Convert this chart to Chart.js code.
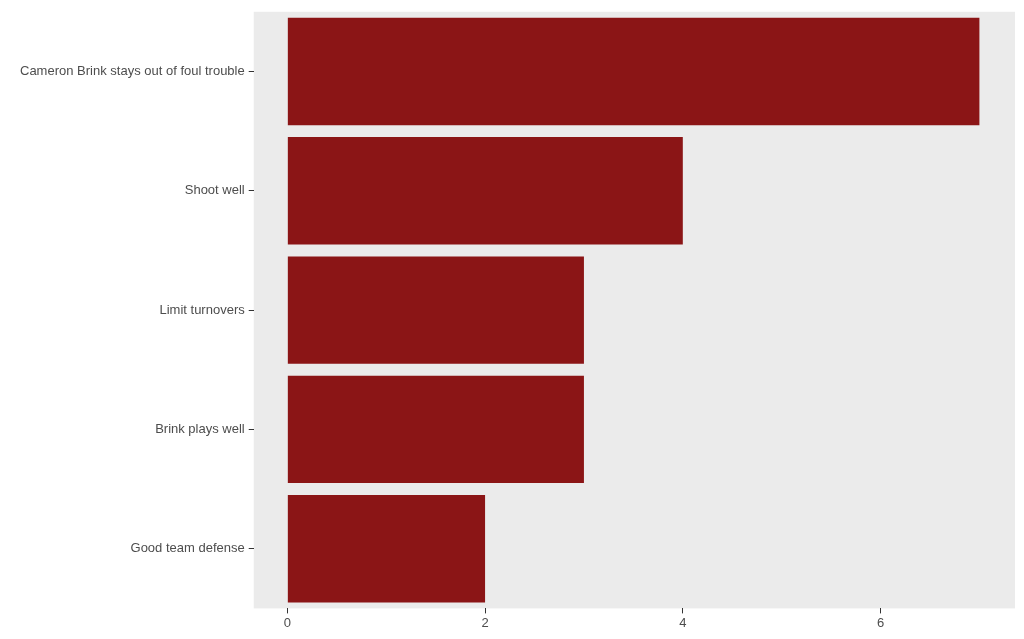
<!DOCTYPE html>
<html>
<head>
<meta charset="utf-8">
<script src="https://cdn.jsdelivr.net/npm/chart.js@4"></script>
<style>
  html, body { margin: 0; padding: 0; background: #fff; }
  #wrap { width: 1024px; height: 639px; }
</style>
</head>
<body>
<div id="wrap"><canvas id="my-chart"></canvas></div>
<script>
const categories = ['Cameron Brink stays out of foul trouble', 'Shoot well', 'Limit turnovers', 'Brink plays well', 'Good team defense'];
const counts = [7, 4, 3, 3, 2];
const xTicks = [0, 2, 4, 6];

// grey panel behind the bars
const panelBg = {
  id: 'panelBg',
  beforeDraw(chart) {
    const { ctx, chartArea: a } = chart;
    ctx.save();
    ctx.fillStyle = '#EBEBEB';
    ctx.fillRect(a.left, a.top, a.right - a.left, a.bottom - a.top);
    ctx.restore();
  }
};

Chart.defaults.font.family = '"Liberation Sans", Arial, sans-serif';
Chart.defaults.font.size = 13;
Chart.defaults.color = '#4D4D4D';

const ctx = document.getElementById('my-chart').getContext('2d');
const chart = new Chart(ctx, {
  type: 'bar',
  data: {
    labels: categories,
    datasets: [{
      data: counts,
      backgroundColor: '#8B1516',
      barPercentage: 0.9,
      categoryPercentage: 1.0
    }]
  },
  options: {
    indexAxis: 'y',
    responsive: true,
    maintainAspectRatio: false,
    animation: false,
    layout: { padding: { top: 6, right: 9, left: 16, bottom: 6 } },
    plugins: { legend: { display: false }, tooltip: { enabled: false } },
    scales: {
      x: {
        min: -0.34,
        max: 7.36,
        afterBuildTicks(axis) { axis.ticks = xTicks.map(v => ({ value: v })); },
        border: { display: false },
        grid: { drawOnChartArea: false, tickLength: 5, color: '#333' },
        ticks: { padding: 2 }
      },
      y: {
        border: { display: false },
        grid: { drawOnChartArea: false, tickLength: 5, color: '#333', offset: false },
        ticks: { padding: 4 }
      }
    }
  },
  plugins: [panelBg]
});
</script>
</body>
</html>
